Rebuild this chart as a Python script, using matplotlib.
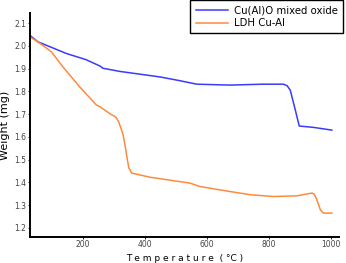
import matplotlib
matplotlib.use("Agg")
import matplotlib.pyplot as plt

# TGA curves (temperature in °C, weight in mg)
temp_oxide = [29, 56, 147, 210, 255, 265, 320, 384, 448, 510, 567, 674, 781, 846, 858, 868,
              884, 897, 943, 1002]
weight_oxide = [2.047, 2.018, 1.967, 1.94, 1.912, 1.902, 1.888, 1.876, 1.864, 1.848, 1.832,
                1.828, 1.832, 1.832, 1.825, 1.806, 1.72, 1.648, 1.642, 1.63]

temp_ldh = [29, 56, 99, 136, 190, 244, 255, 290, 303, 309, 316, 325, 330, 336, 341, 348,
            357, 416, 545, 577, 674, 739, 814, 889, 937, 944, 952, 965, 975, 1002]
weight_ldh = [2.04, 2.018, 1.974, 1.908, 1.82, 1.74, 1.733, 1.70, 1.69, 1.682, 1.665, 1.63,
              1.608, 1.565, 1.52, 1.465, 1.441, 1.423, 1.397, 1.382, 1.36, 1.346, 1.338,
              1.341, 1.353, 1.35, 1.33, 1.28, 1.265, 1.265]

labels = ["Cu(Al)O mixed oxide", "LDH Cu-Al"]
x_ticks = [200, 400, 600, 800, 1000]
y_ticks = [1.2, 1.3, 1.4, 1.5, 1.6, 1.7, 1.8, 1.9, 2.0, 2.1]

fig = plt.figure(figsize=(3.46, 2.63), dpi=100)
ax = fig.add_axes([30 / 346, 26 / 263, 309 / 346, 224 / 263])

ax.plot(temp_oxide, weight_oxide, color="#3a3aff", lw=1.1, label=labels[0])
ax.plot(temp_ldh, weight_ldh, color="#ff8a3d", lw=1.1, label=labels[1])

ax.set_xlim(30, 1025)
ax.set_ylim(1.16, 2.145)
ax.set_xticks(x_ticks)
ax.set_yticks(y_ticks)
ax.set_yticklabels([f"{v:.1f}" for v in y_ticks])

for s in ["top", "right"]:
    ax.spines[s].set_visible(False)
for s in ["left", "bottom"]:
    ax.spines[s].set_linewidth(1.4)

ax.tick_params(labelsize=5.5, labelcolor="#444444", length=1.5, width=0.6, pad=1)
ax.set_xlabel("T e m p e r a t u r e  ( °C )", fontsize=6.5, labelpad=3)
ax.set_ylabel("Weight (mg)", fontsize=8, labelpad=3)

fig.legend(loc="upper right", bbox_to_anchor=(343 / 346, 1.0), fontsize=7.3,
           frameon=True, fancybox=False, edgecolor="black", framealpha=1,
           handlelength=3.2, borderpad=0.5, labelspacing=0.3, handletextpad=0.6,
           borderaxespad=0)

fig.savefig("out.png", dpi=100)
